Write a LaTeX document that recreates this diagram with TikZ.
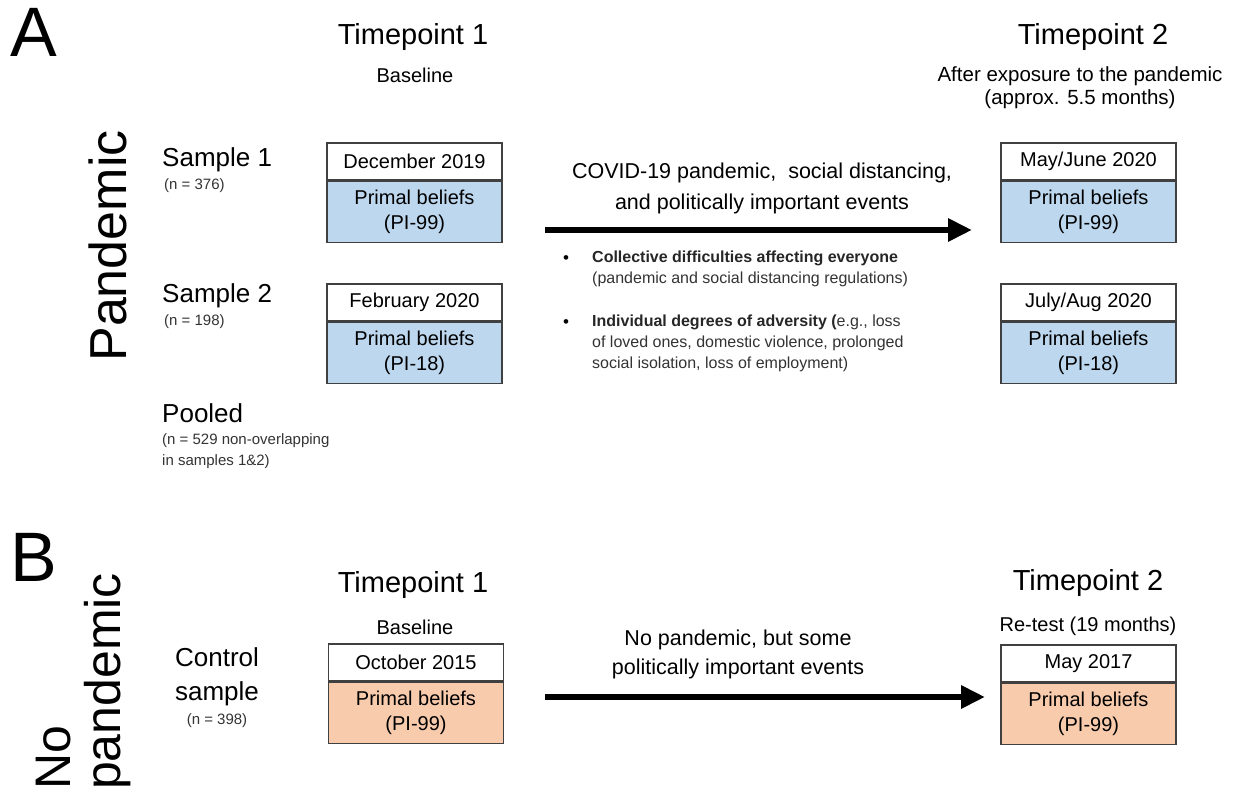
\documentclass[tikz,border=0pt]{standalone}
\usepackage{fontspec}
\setmainfont{Liberation Sans}
\usetikzlibrary{arrows.meta,positioning}
\definecolor{boxline}{HTML}{404040}
\definecolor{bluefill}{HTML}{BDD7EE}
\definecolor{orangefill}{HTML}{F8CBAD}
\definecolor{greytext}{HTML}{333333}
\newcommand{\fs}[2]{\fontsize{#1}{#2}\selectfont}
\tikzset{
  datebox/.style={draw=boxline, line width=1.2pt, fill=white, minimum width=175pt, minimum height=37pt, inner sep=0pt, font=\fs{20}{24}},
  beliefbox/.style={draw=boxline, line width=1.2pt, minimum width=175pt, minimum height=61pt, inner sep=0pt, align=center, font=\fs{20}{25}},
  bigarrow/.style={line width=6pt, -{Triangle[length=24pt,width=22pt]}},
  panel/.style={font=\fs{70}{70}, anchor=north west, inner sep=0pt},
  tp/.style={font=\fs{29}{32}, inner sep=0pt},
  sub/.style={font=\fs{20}{24}, inner sep=0pt},
  sample/.style={font=\fs{26}{34}, inner sep=0pt, anchor=west},
  nsize/.style={font=\fs{15}{20}, text=greytext, inner sep=0pt, anchor=west},
  side/.style={font=\fs{52}{58}, rotate=90, inner sep=0pt},
  evt/.style={font=\fs{21.5}{31}, align=center, inner sep=0pt},
  bul/.style={font=\fs{16}{21}, text=greytext, align=left, anchor=north west, inner sep=0pt},
  bdot/.style={font=\fs{17}{17}, text=black, inner sep=0pt},
}
\begin{document}
\begin{tikzpicture}[x=1pt,y=-1pt]
\useasboundingbox (0,0) rectangle (1242,794);
% ---------- Panel A ----------
\node[panel] (A) at (10,8) {A};
\node[side] (pand) at (108,246) {Pandemic};
\node[tp] (tp1a) at (413,37) {Timepoint 1};
\node[sub] (bl1) at (415,75) {Baseline};
\node[tp] (tp2a) at (1093,37) {Timepoint 2};
\node[sub, align=center, font=\fs{20.5}{23}] (after) at (1080,88) {After exposure to the pandemic\\(approx. 5.5 months)};

\node[sample] (s1) at (162,160) {Sample 1};
\node[nsize] (n1) at (164,186) {(n = 376)};
\node[sample] (s2) at (162,296) {Sample 2};
\node[nsize] (n2) at (164,322) {(n = 198)};
\node[sample] (pool) at (162,413) {Pooled};
\node[nsize, align=left, anchor=north west, font=\fs{15}{21}] (npool) at (162,433) {(n = 529 non-overlapping\\in samples 1\&2)};

\node[datebox] (d1) at (414.5,161.5) {December 2019};
\node[beliefbox, fill=bluefill, anchor=north] (b1) at (d1.south) {Primal beliefs\\(PI-99)};
\node[datebox] (d2) at (414.5,302.5) {February 2020};
\node[beliefbox, fill=bluefill, anchor=north] (b2) at (d2.south) {Primal beliefs\\(PI-18)};
\node[datebox] (d3) at (1088.5,161.5) {May/June 2020};
\node[beliefbox, fill=bluefill, anchor=north] (b3) at (d3.south) {Primal beliefs\\(PI-99)};
\node[datebox] (d4) at (1088.5,302.5) {July/Aug 2020};
\node[beliefbox, fill=bluefill, anchor=north] (b4) at (d4.south) {Primal beliefs\\(PI-18)};

\node[evt] (evtA) at (762,188) {COVID-19 pandemic,\ \ social distancing,\\and politically\ important\ events};
\coordinate (aS) at (545,230);
\coordinate (aE) at (972,230);
\draw[bigarrow] (aS) -- (aE);

\node[bdot] (dot1) at (566,260) {•};
\node[bul] (t1) at (592,251) {\textbf{\color{black!85}Collective difficulties\ affecting everyone}\\(pandemic and social distancing regulations)};
\node[bdot] (dot2) at (566,324) {•};
\node[bul] (t2) at (592,315) {\textbf{\color{black!85}Individual degrees of adversity (}e.g., loss\\of loved ones, domestic violence, prolonged\\social isolation, loss of employment)};

% ---------- Panel B ----------
\node[panel] (B) at (10,533) {B};
\node[side, anchor=south west, align=left, font=\fs{50}{50}] (nopand) at (131,790) {No\\pandemic};
\node[tp] (tp1b) at (413,585) {Timepoint 1};
\node[sub] (bl2) at (415,627) {Baseline};
\node[tp] (tp2b) at (1088,583) {Timepoint 2};
\node[sub] (retest) at (1088,626) {Re-test (19 months)};

\node[sample, anchor=north, align=center, font=\fs{26}{34}] (ctrl) at (217,647) {Control\\sample};
\node[nsize, anchor=center] (n3) at (217,721) {(n = 398)};

\node[datebox] (d5) at (416,662.5) {October 2015};
\node[beliefbox, fill=orangefill, anchor=north] (b5) at (d5.south) {Primal beliefs\\(PI-99)};
\node[datebox] (d6) at (1088.5,663.5) {May 2017};
\node[beliefbox, fill=orangefill, anchor=north] (b6) at (d6.south) {Primal beliefs\\(PI-99)};

\node[evt, font=\fs{21.5}{29}] (evtB) at (738,654) {No pandemic, but some\\politically important events};
\coordinate (bS) at (545,697);
\coordinate (bE) at (985,697);
\draw[bigarrow] (bS) -- (bE);
\end{tikzpicture}
\end{document}
